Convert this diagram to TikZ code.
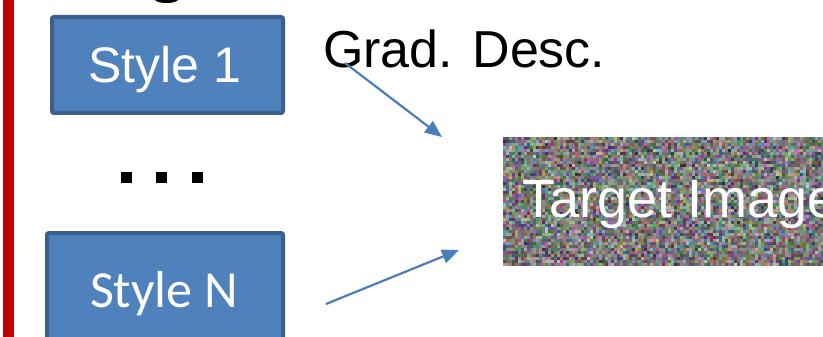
\documentclass[tikz,border=0pt]{standalone}
\usepackage{fontspec}
\setmainfont{Liberation Sans}
\newfontfamily\carlito{Carlito}
\usetikzlibrary{arrows.meta}
\definecolor{boxfill}{RGB}{79,129,189}
\definecolor{boxline}{RGB}{60,95,141}
\definecolor{arr}{RGB}{74,126,187}
\definecolor{redbar}{RGB}{192,0,0}
\tikzset{
  stylebox/.style={draw=boxline,fill=boxfill,line width=4pt,rounded corners=2pt},
  boxtext/.style={text=white,inner sep=0pt,anchor=base},
  arrowline/.style={draw=arr,line width=2.2pt,-{Triangle[length=17pt,width=14pt]}},
  bigtext/.style={inner sep=0pt,anchor=base west,font=\fontsize{52}{60}\selectfont}
}
\begin{document}
\begin{tikzpicture}[x=1pt,y=-1pt]
\useasboundingbox (0,0) rectangle (823,337);
\clip (0,0) rectangle (823,337);
\fill[white] (0,0) rectangle (823,337);
% red bar
\fill[redbar] (3,0) rectangle (14,337);
% cut-off descender at top
\fill[black] (155,0) .. controls (158,4) and (175,4) .. (178,0) -- cycle;
% boxes
\draw[stylebox] (52,17) rectangle (283,113);
\node[boxtext,font=\fontsize{50}{56}\selectfont] (s1) at (165,83) {Style 1};
\draw[stylebox] (47,233) rectangle (283,360);
\node[boxtext,font=\carlito\fontsize{52}{58}\selectfont] (sn) at (164,307) {Style N};
% dots
\foreach \xx/\nm in {121/d1,156/d2,192/d3}
  \fill[black] (\xx,172) rectangle ++(11,11);
% noise image
\pgfmathsetseed{4242}
\foreach \i in {0,...,106}{
  \foreach \j in {0,...,42}{
    \pgfmathrandominteger{\base}{85}{160}
    \pgfmathrandominteger{\dr}{-50}{50}
    \pgfmathrandominteger{\dg}{-50}{50}
    \pgfmathrandominteger{\db}{-50}{50}
    \pgfmathtruncatemacro{\rr}{max(0,min(255,\base+\dr))}
    \pgfmathtruncatemacro{\gg}{max(0,min(255,\base+\dg))}
    \pgfmathtruncatemacro{\bb}{max(0,min(255,\base+\db))}
    \definecolor{nz}{RGB}{\rr,\gg,\bb}
    \fill[nz] (503+3*\i,137+3*\j) rectangle ++(3,3);
  }
}
\node[bigtext,text=white,font=\fontsize{54}{60}\selectfont] (ti) at (522,217) {Target Image};
\node[bigtext,text=black] (gd) at (323,68) {Grad. Desc.};
% arrows
\coordinate (a1s) at (345,63);
\coordinate (a1e) at (442,137);
\coordinate (a2s) at (326,304);
\coordinate (a2e) at (459,250);
\draw[arrowline] (a1s) -- (a1e);
\draw[arrowline] (a2s) -- (a2e);
\end{tikzpicture}
\end{document}
